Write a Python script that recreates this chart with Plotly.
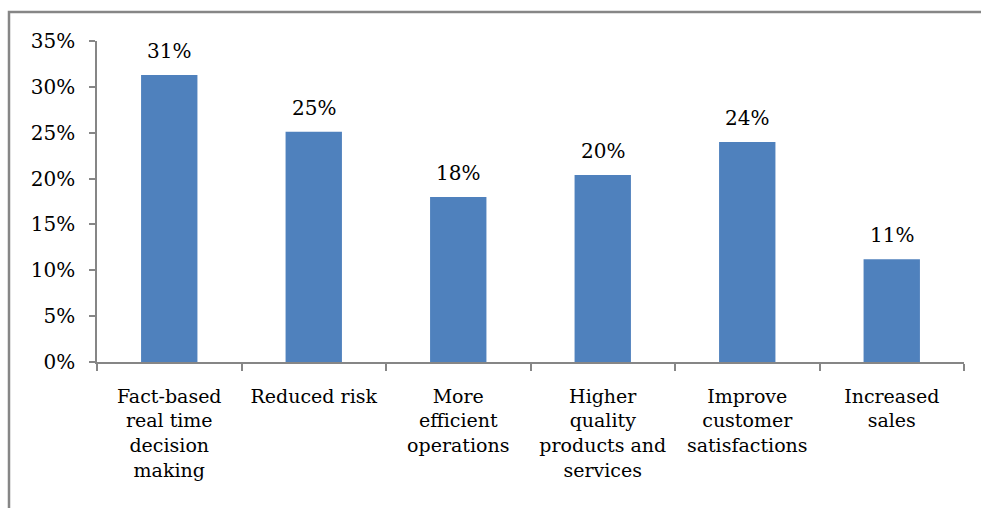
import plotly.graph_objects as go

categories = ["Fact-based<br>real time<br>decision<br>making", "Reduced risk",
              "More<br>efficient<br>operations", "Higher<br>quality<br>products and<br>services",
              "Improve<br>customer<br>satisfactions", "Increased<br>sales"]
values = [31.3, 25.1, 18.0, 20.4, 24.0, 11.2]
labels = ["31%", "25%", "18%", "20%", "24%", "11%"]
y_ticks = [0, 5, 10, 15, 20, 25, 30, 35]

FONT = "DejaVu Serif"
AX = "#868686"
FS = 19

fig = go.Figure(go.Bar(
    x=categories, y=values,
    marker=dict(color="#4F81BD", line=dict(width=0)),
    cliponaxis=False,
))

for c, v, t in zip(categories, values, labels):
    fig.add_annotation(x=c, y=v, text=t, showarrow=False, yanchor="bottom",
                       yshift=10, font=dict(family=FONT, size=FS + 1, color="black"))

fig.update_layout(
    width=981, height=508,
    margin=dict(l=97, r=17, t=41, b=146),
    paper_bgcolor="white", plot_bgcolor="white",
    bargap=0.61, showlegend=False,
    font=dict(family=FONT, size=FS, color="black"),
    xaxis=dict(showline=True, linecolor=AX, linewidth=1.5, ticks="outside",
               tickson="boundaries", ticklen=7, tickcolor=AX, tickwidth=1.5,
               showgrid=False, ticklabelstandoff=16, automargin=False, tickangle=0,
               tickfont=dict(family=FONT, size=FS, color="black")),
    yaxis=dict(range=[0, 35], tickvals=y_ticks, ticktext=[f"{v}%" for v in y_ticks],
               showline=True, linecolor=AX, linewidth=1.5, ticks="outside",
               ticklen=6, tickcolor=AX, tickwidth=1.5, showgrid=False, zeroline=False,
               ticklabelstandoff=10, automargin=False,
               tickfont=dict(family=FONT, size=FS + 1, color="black")),
    shapes=[dict(type="rect", xref="paper", yref="paper",
                 x0=-0.1015, x1=1.1, y0=-0.6, y1=1.0903,
                 line=dict(color=AX, width=2.5), layer="below")],
)

fig.write_html("out.html")
